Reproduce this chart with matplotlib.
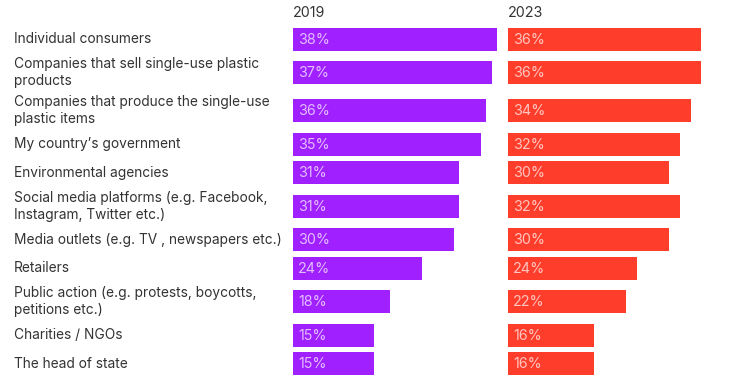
import matplotlib.pyplot as plt

plt.rcParams['font.family'] = ['Inter', 'DejaVu Sans']

categories = [
    "Individual consumers",
    "Companies that sell single-use plastic\nproducts",
    "Companies that produce the single-use\nplastic items",
    "My country\u2019s government",
    "Environmental agencies",
    "Social media platforms (e.g. Facebook,\nInstagram, Twitter etc.)",
    "Media outlets (e.g. TV , newspapers etc.)",
    "Retailers",
    "Public action (e.g. protests, boycotts,\npetitions etc.)",
    "Charities / NGOs",
    "The head of state",
]
years = ["2019", "2023"]
values_2019 = [38, 37, 36, 35, 31, 31, 30, 24, 18, 15, 15]
values_2023 = [36, 36, 34, 32, 30, 32, 30, 24, 22, 16, 16]

colors = ["#A020FF", "#FF3D2B"]

# row centres in pixels: taller rows for two-line labels
lines = [c.count("\n") + 1 for c in categories]
ys = [39]
for i in range(1, len(categories)):
    ys.append(ys[-1] + 28.7 + 4.75 * (lines[i - 1] + lines[i] - 2))

W, H = 750, 375
fig = plt.figure(figsize=(7.5, 3.75), dpi=100)
fig.patch.set_facecolor("white")

ppp = 5.37  # pixels per percent
lefts = [293, 508]
span = 42
for k, (vals, col, yr) in enumerate(zip([values_2019, values_2023], colors, years)):
    ax = fig.add_axes([lefts[k] / W, 0, span * ppp / W, 1])
    ax.barh(ys, vals, height=23, color=col, left=0)
    ax.set_xlim(0, span)
    ax.set_ylim(H, 0)
    ax.axis("off")
    for y, v in zip(ys, vals):
        ax.text(1.0, y + 0.5, f"{v}%", color="white", alpha=0.7, fontsize=10.3,
                va="center", ha="left")
    ax.text(0, 13, yr, color="#333333", fontsize=10.3, va="center", ha="left")

lab = fig.add_axes([0, 0, 1, 1])
lab.set_xlim(0, W)
lab.set_ylim(H, 0)
lab.axis("off")
lab.patch.set_alpha(0)
for y, c in zip(ys, categories):
    lab.text(14, y, c, color="#333333", fontsize=9.9, va="center", ha="left",
             linespacing=1.3)

fig.savefig("out.png", dpi=100)
